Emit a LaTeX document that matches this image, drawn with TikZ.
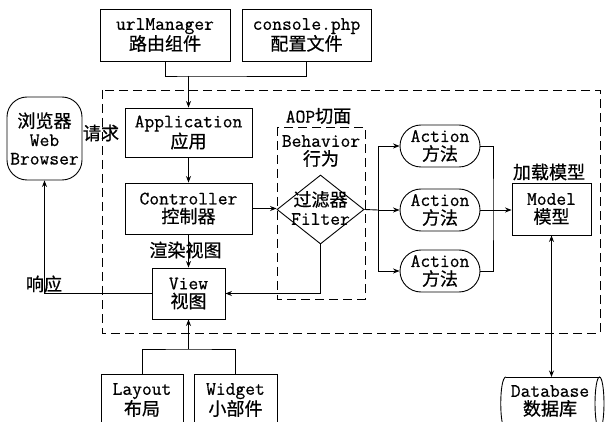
\documentclass[tikz,border=0pt]{standalone}
\usepackage{fontspec}
\setmonofont{Latin Modern Mono}[FakeBold=0.6]
\newfontfamily\cjk{Noto Sans CJK SC}[Scale=0.95,FakeBold=0.6]
\usetikzlibrary{shapes.geometric,shapes.misc,arrows.meta}
\begin{document}
\begin{tikzpicture}[x=1pt,y=-1pt,line width=0.9pt,>={Stealth[length=6.5pt,width=5pt]},
    every node/.style={font=\ttfamily\fontsize{19}{18.5}\selectfont,align=center}]
    \tikzstyle{box}=[draw,rectangle,inner sep=0pt]
    \tikzstyle{act}=[draw,rounded rectangle,minimum width=80pt,minimum height=42pt,inner sep=0pt]
    \tikzstyle{zone}=[draw,dash pattern=on 9pt off 5pt]
    \useasboundingbox (0,0) rectangle (608,422);
    % dashed frames
    \draw[zone] (102,90) rectangle (600,333);
    \draw[zone] (277,127) rectangle (365,299);
    % nodes
    \node[box,minimum width=130pt,minimum height=52pt] (url) at (165,35) {urlManager\\{\cjk 路由组件}};
    \node[box,minimum width=129pt,minimum height=52pt] (conf) at (306.5,35) {console.php\\{\cjk 配置文件}};
    \node[box,rounded corners=20pt,minimum width=75pt,minimum height=83pt] (web) at (44.5,138.5) {{\cjk 浏览器}\\Web\\Browser};
    \node[box,minimum width=127pt,minimum height=49pt] (app) at (188.5,132.5) {Application\\{\cjk 应用}};
    \node[box,minimum width=127pt,minimum height=51pt] (ctrl) at (188.5,208.5) {Controller\\{\cjk 控制器}};
    \node[box,minimum width=73pt,minimum height=51pt] (view) at (188.5,293.5) {View\\{\cjk 视图}};
    \node[box,minimum width=82pt,minimum height=52pt] (lay) at (142,400) {Layout\\{\cjk 布局}};
    \node[box,minimum width=83pt,minimum height=52pt] (wid) at (235.5,400) {Widget\\{\cjk 小部件}};
    \node (aop) at (318.5,116) {AOP{\cjk 切面}};
    \node (beh) at (321,151) {Behavior\\{\cjk 行为}};
    \node[draw,diamond,minimum width=87pt,minimum height=69pt,inner sep=0pt] (flt) at (320.5,209.5) {};
    \node (fltname) at (320.5,208) {{\cjk 过滤器}\\Filter};
    \node[act] (act1) at (440,146) {Action\\{\cjk 方法}};
    \node[act] (act2) at (440,210) {Action\\{\cjk 方法}};
    \node[act] (act3) at (440,271) {Action\\{\cjk 方法}};
    \node[box,minimum width=79pt,minimum height=52pt] (model) at (551.5,209) {Model\\{\cjk 模型}};
    \node (load) at (549,172) {\cjk 加载模型};
    \node (db) at (550,401) {Database\\{\cjk 数据库}};
    \node (req) at (101,133) {\cjk 请求};
    \node (resp) at (44,284) {\cjk 响应};
    \node (render) at (185.5,250) {\cjk 渲染视图};
    % database drum
    \coordinate (dbtop) at (551.5,377);
    \draw (506,377) -- (599.5,377) (506,430) -- (599.5,430);
    \draw (506,377) .. controls (499,377) and (499,430) .. (506,430);
    \draw (599.5,403.5) ellipse [x radius=4.5pt,y radius=26.5pt];
    % connectors
    \coordinate (cfg) at (188.5,76);
    \draw (url.south) |- (cfg) -| (conf.south);
    \draw[->] (cfg) -- (app.north);
    \draw[->] (app) -- (ctrl);
    \draw[->] (ctrl) -- (view);
    \draw[->] (view.west) -| (web.south);
    \coordinate (ui) at (188.5,349);
    \draw (lay.north) |- (ui) -| (wid.north);
    \draw[->] (ui) -- (view.south);
    \draw[->] (ctrl.east) -- (ctrl.east -| flt.west);
    \draw[->] (flt.south) |- (view.east);
    \coordinate (fork) at (378,210);
    \draw (flt.east) -- (fork);
    \draw[->] (fork) |- (act1.west);
    \draw[->] (fork) -- (act2.west);
    \draw[->] (fork) |- (act3.west);
    \coordinate (merge) at (493,210);
    \draw (act1.east) -| (merge) |- (act3.east);
    \draw[->] (act2.east) -- (act2.east -| model.west);
    \draw[<->] (model.south) -- (dbtop);
\end{tikzpicture}
\end{document}
